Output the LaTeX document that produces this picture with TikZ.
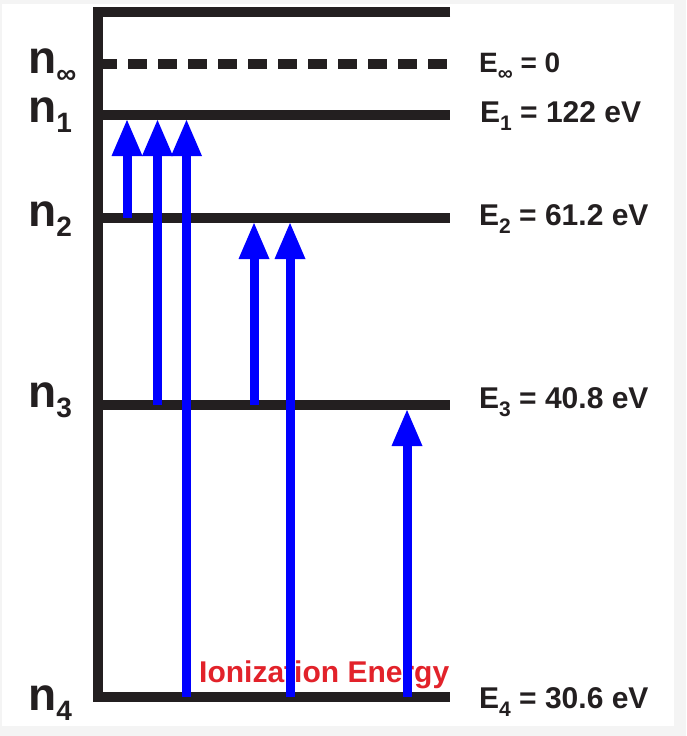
\documentclass[tikz,border=0pt]{standalone}
\usepackage{fontspec}
\setmainfont{Liberation Sans}
\usetikzlibrary{arrows.meta}
\definecolor{lvlblack}{HTML}{231F20}
\definecolor{photonblue}{HTML}{0000FF}
\definecolor{ionred}{HTML}{E2222A}
\definecolor{pagegray}{HTML}{F4F4F4}
\newcommand{\nsub}[1]{\raisebox{-10pt}{\fontsize{28}{28}\selectfont #1}}
\newcommand{\esub}[1]{\raisebox{-8pt}{\fontsize{21}{21}\selectfont #1}}

\begin{document}
\begin{tikzpicture}
 [x=1pt,y=-1pt,
  level/.style={draw=lvlblack,line width=10pt},
  photon/.style={draw=photonblue,line width=9pt,-{Triangle[length=36pt,width=31pt,line width=0pt]},shorten >=5pt},
  nlabel/.style={anchor=base west,inner sep=0pt,text=lvlblack,font=\fontsize{46}{46}\selectfont\bfseries},
  elabel/.style={anchor=base west,inner sep=0pt,text=lvlblack,font=\fontsize{30}{30}\selectfont\bfseries}]
  \fill[pagegray] (0,0) rectangle (686,736);
  \fill[white] (2,4) rectangle (674,726);
  \useasboundingbox (0,0) rectangle (686,736);

  \coordinate (Ltop) at (98,12);
  \coordinate (Linf) at (98,63.5);
  \coordinate (L1) at (98,115);
  \coordinate (L2) at (98,218);
  \coordinate (L3) at (98,405);
  \coordinate (L4) at (98,697);

  \draw[level,line join=miter] ([xshift=352pt]Ltop) -- (Ltop) -- (L4) -- ++(352,0);
  \foreach \lev in {L1,L2,L3}
    \draw[level] (\lev) -- ++(352,0);
  \draw[level,dash pattern=on 19pt off 11pt] (Linf) -- ++(352,0);

  \node[nlabel] (ninf) at (28,73)  {n\nsub{∞}};
  \node[nlabel] (n1)   at (28,122) {n\nsub{1}};
  \node[nlabel] (n2)   at (28,226) {n\nsub{2}};
  \node[nlabel] (n3)   at (28,407) {n\nsub{3}};
  \node[nlabel] (n4)   at (28,710) {n\nsub{4}};

  \node[elabel,font=\fontsize{28}{28}\selectfont\bfseries] (Einf) at (479,72) {E\esub{∞} = 0};
  \node[elabel] (E1) at (480,122) {E\esub{1} = 122 eV};
  \node[elabel] (E2) at (479,225) {E\esub{2} = 61.2 eV};
  \node[elabel] (E3) at (479,408) {E\esub{3} = 40.8 eV};
  \node[elabel] (E4) at (479,708) {E\esub{4} = 30.6 eV};

  \node[anchor=base west,inner sep=0pt,text=ionred,font=\fontsize{30}{30}\selectfont\bfseries] (ion) at (199,682) {Ionization Energy};

  \foreach \x/\from/\to in {127/2/1,157.5/3/1,186.5/4/1,254/3/2,290/4/2,407/4/3}
    \draw[photon] (\x,0 |- L\from) -- (\x,0 |- L\to);
\end{tikzpicture}
\end{document}
